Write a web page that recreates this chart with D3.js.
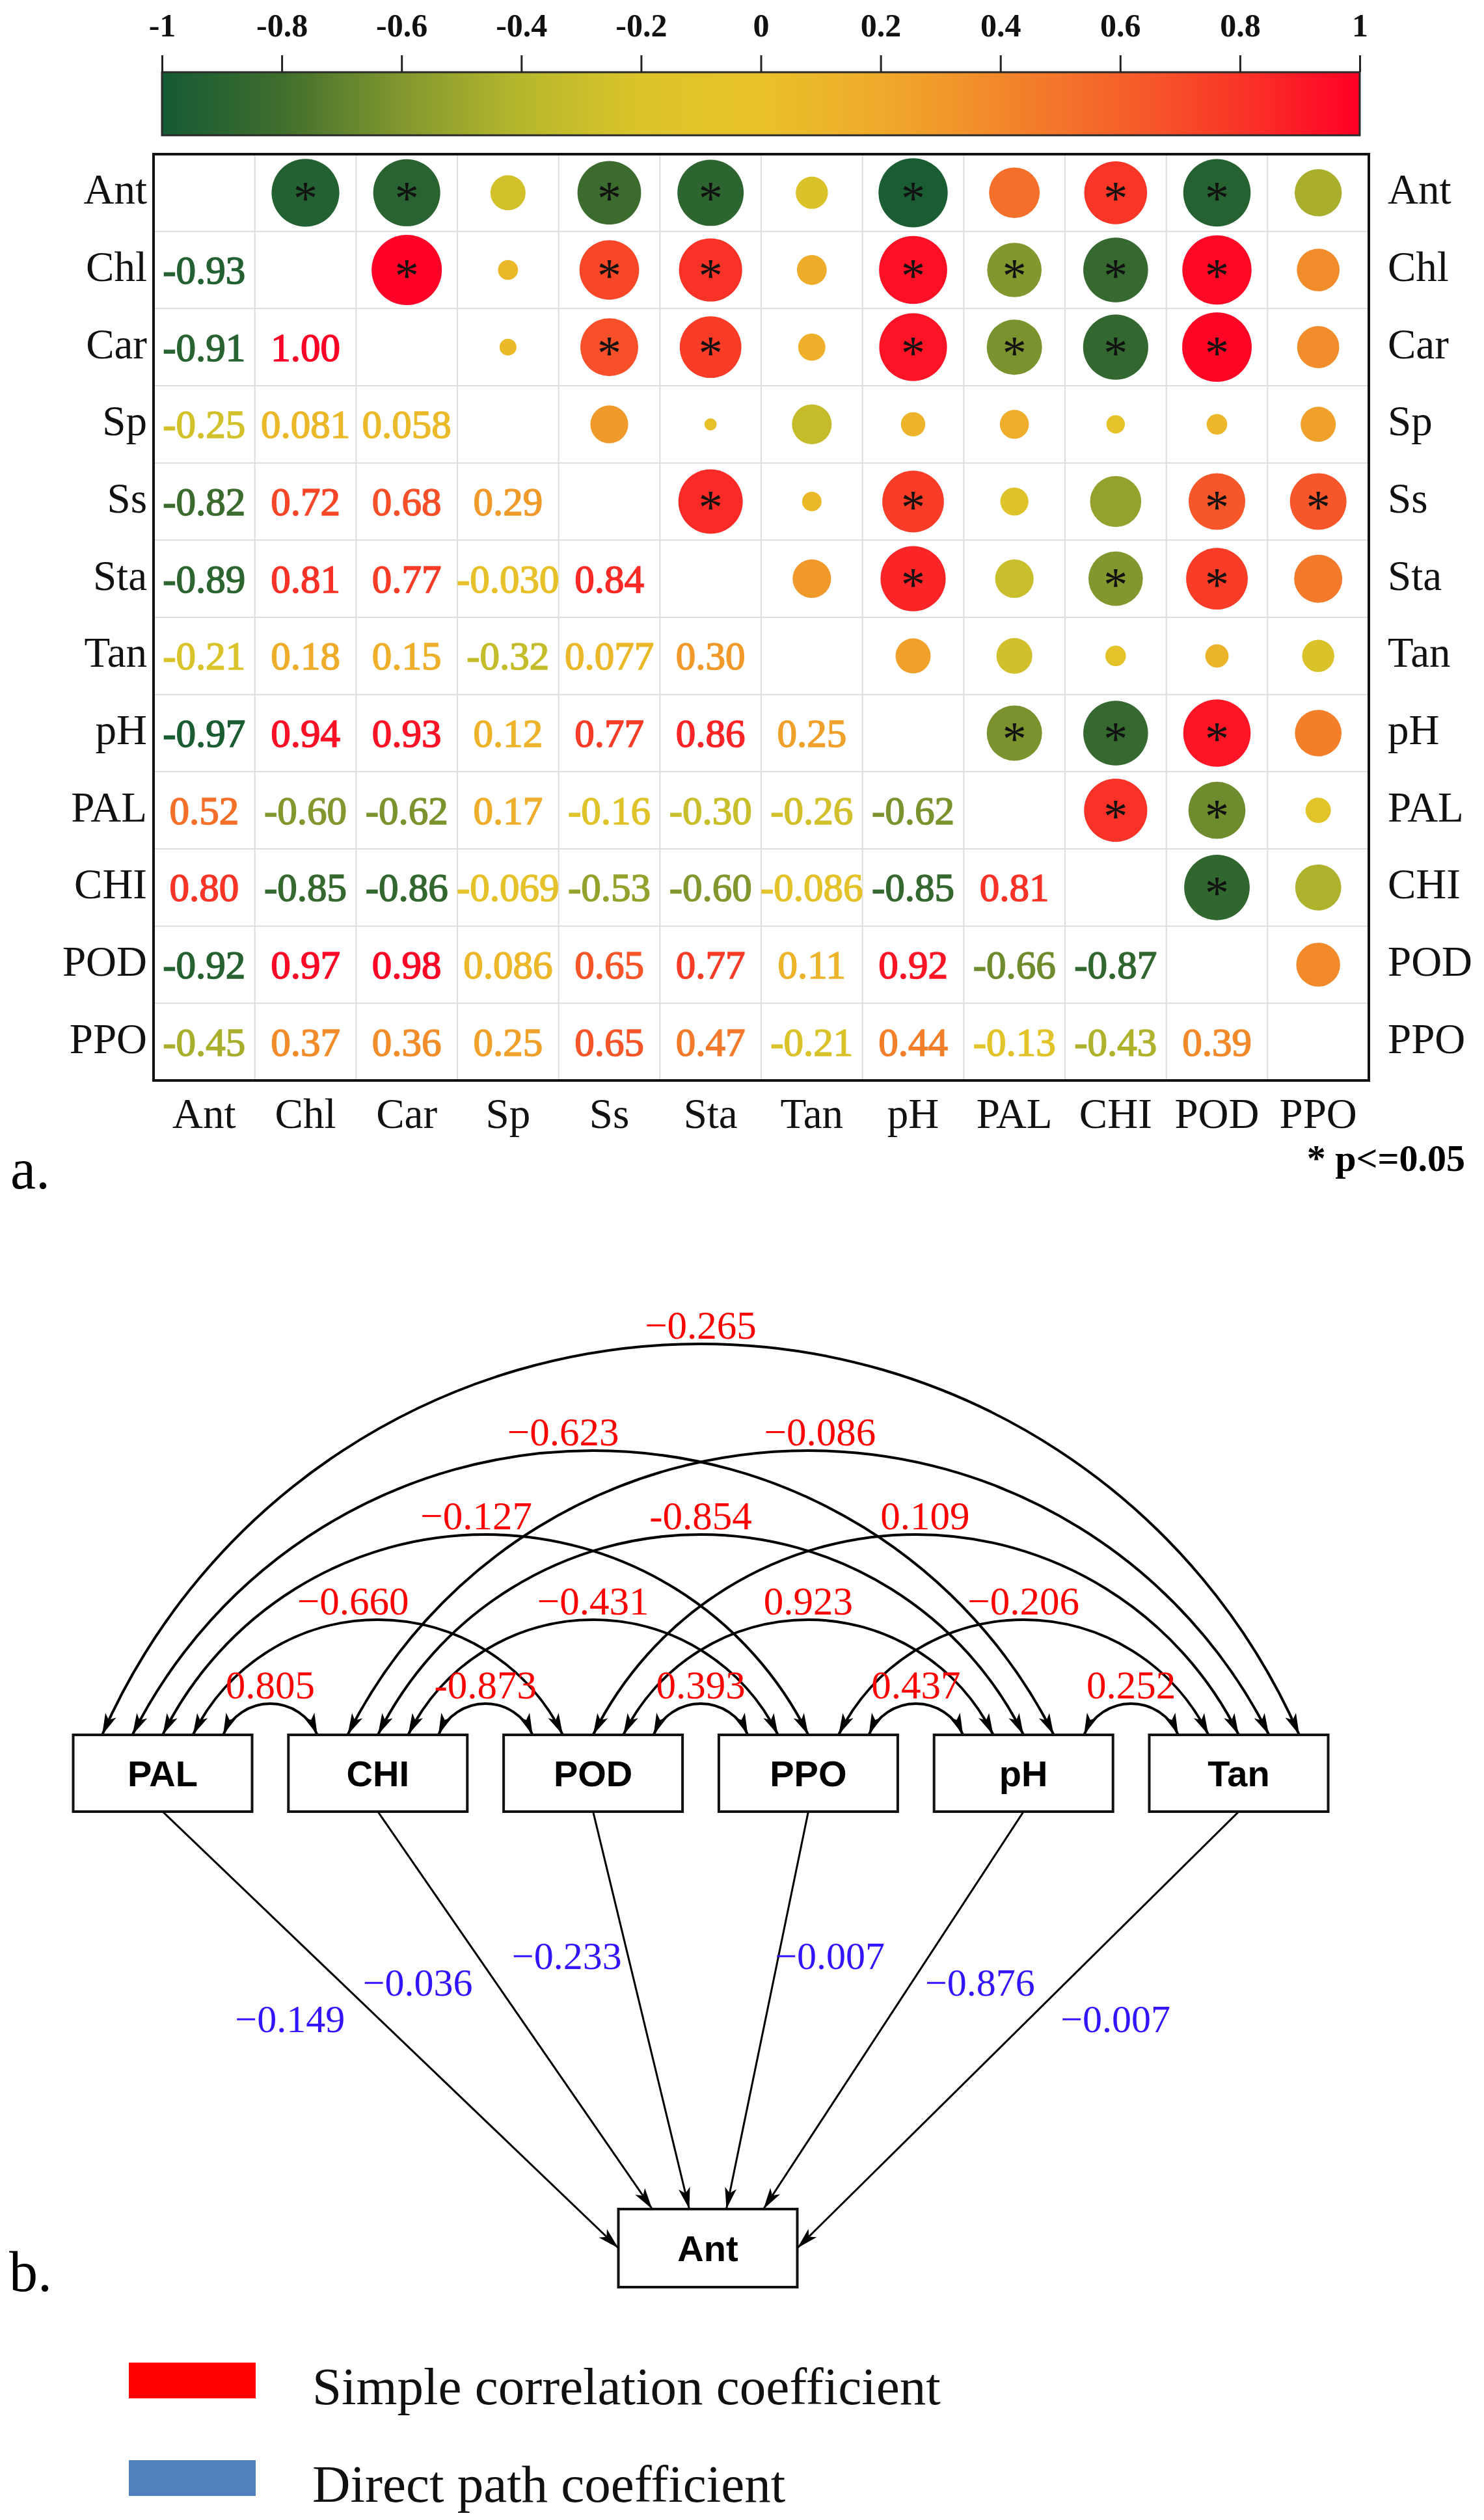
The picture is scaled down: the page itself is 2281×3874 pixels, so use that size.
<!DOCTYPE html>
<html>
<head>
<meta charset="utf-8">
<script src="https://cdn.jsdelivr.net/npm/d3@7"></script>
<style>
  body { margin: 0; background: #fff; }
  svg { display: block; }
</style>
</head>
<body>
<svg id="chart" width="2281" height="3874"></svg>
<script>
// ---- data: correlation matrix (a.) ----
const variables = ["Ant", "Chl", "Car", "Sp", "Ss", "Sta", "Tan", "pH", "PAL", "CHI", "POD", "PPO"];

// lower triangle, row by row (row i holds r with columns 0..i-1)
const corrRows = [
  [],
  [-0.93],
  [-0.91, 1.00],
  [-0.25, 0.081, 0.058],
  [-0.82, 0.72, 0.68, 0.29],
  [-0.89, 0.81, 0.77, -0.030, 0.84],
  [-0.21, 0.18, 0.15, -0.32, 0.077, 0.30],
  [-0.97, 0.94, 0.93, 0.12, 0.77, 0.86, 0.25],
  [0.52, -0.60, -0.62, 0.17, -0.16, -0.30, -0.26, -0.62],
  [0.80, -0.85, -0.86, -0.069, -0.53, -0.60, -0.086, -0.85, 0.81],
  [-0.92, 0.97, 0.98, 0.086, 0.65, 0.77, 0.11, 0.92, -0.66, -0.87],
  [-0.45, 0.37, 0.36, 0.25, 0.65, 0.47, -0.21, 0.44, -0.13, -0.43, 0.39]
];

// |r| from which the original marks a star (p<=0.05)
const sigLevel = 0.6;

const colorTicks = [-1, -0.8, -0.6, -0.4, -0.2, 0, 0.2, 0.4, 0.6, 0.8, 1];
const colorStops = ["#155a34", "#3f6e2d", "#82972e", "#b6b72c", "#dcc42a", "#e9c12a",
                    "#efaa2b", "#f2872b", "#f5612a", "#f93527", "#ff0026"];

// ---- data: path analysis (b.) ----
const pathVars = ["PAL", "CHI", "POD", "PPO", "pH", "Tan"];
const pathTarget = "Ant";

// simple correlation coefficients between the predictors
const simplePairs = [
  ["PAL", "Tan", -0.265], ["PAL", "pH", -0.623], ["CHI", "Tan", -0.086],
  ["PAL", "PPO", -0.127], ["CHI", "pH", -0.854], ["POD", "Tan", 0.109],
  ["PAL", "POD", -0.660], ["CHI", "PPO", -0.431], ["POD", "pH", 0.923],
  ["PPO", "Tan", -0.206], ["PAL", "CHI", 0.805], ["CHI", "POD", -0.873],
  ["POD", "PPO", 0.393], ["PPO", "pH", 0.437], ["pH", "Tan", 0.252]
];
// these two are printed with a plain hyphen in the original
const hyphenPairs = ["CHI-pH", "CHI-POD"];

// direct path coefficients to Ant, same order as pathVars
const directPath = [-0.149, -0.036, -0.233, -0.007, -0.876, -0.007];

const legendLabels = ["Simple correlation coefficient", "Direct path coefficient"];
const legendColors = ["#ff0000", "#4f81bd"];

// ---- drawing ----
const svg = d3.select("#chart");
const serif = "'Liberation Serif', 'Times New Roman', serif";
const sans = "'Liberation Sans', Arial, sans-serif";

const color = d3.scaleLinear().domain(colorTicks).range(colorStops).interpolate(d3.interpolateRgb);

// colour bar
const cbx = d3.scaleLinear().domain([-1, 1]).range([249, 2090]);
const grad = svg.append("defs").append("linearGradient")
  .attr("id", "cbar").attr("x1", "0%").attr("x2", "100%");
grad.selectAll("stop")
  .data(d3.range(0, 41).map(i => -1 + i * 0.05))
  .join("stop")
  .attr("offset", d => ((d + 1) / 2 * 100) + "%")
  .attr("stop-color", d => color(d));

svg.append("rect")
  .attr("x", cbx(-1)).attr("y", 111)
  .attr("width", cbx(1) - cbx(-1)).attr("height", 97)
  .attr("fill", "url(#cbar)")
  .attr("stroke", "#2a2a2a").attr("stroke-width", 3);

const cbAxis = svg.append("g")
  .attr("transform", "translate(0,111)")
  .call(d3.axisTop(cbx).tickValues(colorTicks).tickSize(26).tickPadding(29)
    .tickFormat(d => String(+d.toFixed(1))));
cbAxis.select(".domain").remove();
cbAxis.selectAll(".tick line").attr("stroke", "#222").attr("stroke-width", 3);
cbAxis.selectAll(".tick text")
  .attr("fill", "#111")
  .style("font-family", serif).style("font-size", "50px").style("font-weight", "bold");

// matrix
const mx = d3.scaleBand().domain(variables).range([236, 2104]);
const my = d3.scaleBand().domain(variables).range([237, 1661]);
const bw = mx.bandwidth(), bh = my.bandwidth();
const radius = d3.scaleSqrt().domain([0, 1]).range([0, 54]);

const cells = [];
corrRows.forEach((row, i) => row.forEach((r, j) => cells.push({row: variables[i], col: variables[j], r})));

const fmt = r => Math.abs(r) < 0.1 ? r.toPrecision(2) : r.toFixed(2);

const grid = svg.append("g").attr("stroke", "#dddddd").attr("stroke-width", 2);
variables.slice(1).forEach(v => {
  grid.append("line").attr("x1", mx(v)).attr("x2", mx(v)).attr("y1", my.range()[0]).attr("y2", my.range()[1]);
  grid.append("line").attr("y1", my(v)).attr("y2", my(v)).attr("x1", mx.range()[0]).attr("x2", mx.range()[1]);
});

// upper triangle: circles (area ~ |r|)
svg.append("g").selectAll("circle")
  .data(cells)
  .join("circle")
  .attr("cx", d => mx(d.row) + bw / 2)
  .attr("cy", d => my(d.col) + bh / 2)
  .attr("r", d => radius(Math.abs(d.r)))
  .attr("fill", d => color(d.r));

svg.append("g").selectAll("text")
  .data(cells.filter(d => Math.abs(d.r) >= sigLevel))
  .join("text")
  .attr("x", d => mx(d.row) + bw / 2)
  .attr("y", d => my(d.col) + bh / 2 + 34)
  .attr("text-anchor", "middle")
  .style("font-family", serif).style("font-size", "74px")
  .attr("fill", "#111")
  .text("*");

// lower triangle: values
svg.append("g").selectAll("text")
  .data(cells)
  .join("text")
  .attr("x", d => mx(d.col) + bw / 2)
  .attr("y", d => my(d.row) + bh / 2 + 21)
  .attr("text-anchor", "middle")
  .style("font-family", serif).style("font-size", "61px")
  .attr("fill", d => color(d.r))
  .attr("stroke", d => color(d.r)).attr("stroke-width", 1.6)
  .text(d => fmt(d.r));

svg.append("rect")
  .attr("x", mx.range()[0]).attr("y", my.range()[0])
  .attr("width", mx.range()[1] - mx.range()[0]).attr("height", my.range()[1] - my.range()[0])
  .attr("fill", "none").attr("stroke", "#111").attr("stroke-width", 4);

const labelStyle = s => s.style("font-family", serif).style("font-size", "65px").attr("fill", "#111");
svg.append("g").selectAll("text").data(variables).join("text")
  .attr("x", 226).attr("y", d => my(d) + bh / 2 + 17).attr("text-anchor", "end")
  .call(labelStyle).text(d => d);
svg.append("g").selectAll("text").data(variables).join("text")
  .attr("x", 2133).attr("y", d => my(d) + bh / 2 + 17)
  .call(labelStyle).text(d => d);
svg.append("g").selectAll("text").data(variables).join("text")
  .attr("x", d => mx(d) + bw / 2).attr("y", 1734).attr("text-anchor", "middle")
  .call(labelStyle).text(d => d);

svg.append("text").attr("x", 2252).attr("y", 1800).attr("text-anchor", "end")
  .style("font-family", serif).style("font-size", "58px").style("font-weight", "bold")
  .text("* p<=0.05");

svg.append("text").attr("x", 16).attr("y", 1827)
  .style("font-family", serif).style("font-size", "88px").text("a.");

// ---- path diagram ----
const bx = d3.scalePoint().domain(pathVars).range([250, 1904]);
const boxW = 275, boxH = 118, boxTop = 2667;
const slotGap = 46.5;
const arcRise = d3.scaleLinear().domain([1, 2, 3, 4, 5]).range([48, 177, 308, 437, 601]);
const labelShift = {"PAL-pH": -46, "PAL-POD": -38, "CHI-Tan": 18, "PAL-PPO": -14, "POD-Tan": 14};

const defs = svg.select("defs");
defs.append("marker")
  .attr("id", "arrow")
  .attr("markerUnits", "userSpaceOnUse")
  .attr("viewBox", "-34 -10 36 20")
  .attr("refX", 0).attr("refY", 0)
  .attr("markerWidth", 36).attr("markerHeight", 20)
  .attr("orient", "auto-start-reverse")
  .append("path")
  .attr("d", "M0,0 L-33,-9 L-25,0 L-33,9 Z")
  .attr("fill", "#000");

function slotX(k, t) {
  const order = d3.range(k - 1, -1, -1).concat(d3.range(pathVars.length - 1, k, -1));
  return bx(pathVars[k]) + (order.indexOf(t) - 2) * slotGap;
}

const arcs = simplePairs.map(([a, b, v]) => {
  const ia = pathVars.indexOf(a), ib = pathVars.indexOf(b);
  const x1 = slotX(ia, ib), x2 = slotX(ib, ia);
  const h = (x2 - x1) / 2, s = arcRise(ib - ia);
  const R = (h * h + s * s) / (2 * s);
  const key = a + "-" + b;
  return {
    key, v, x1, x2, s, R,
    label: (v < 0 ? (hyphenPairs.includes(key) ? "-" : "\u2212") : "") + Math.abs(v).toFixed(3)
  };
});

svg.append("g").selectAll("path")
  .data(arcs)
  .join("path")
  .attr("d", d => `M${d.x1},${boxTop} A${d.R},${d.R} 0 0 1 ${d.x2},${boxTop}`)
  .attr("fill", "none").attr("stroke", "#000").attr("stroke-width", 4)
  .attr("marker-start", "url(#arrow)").attr("marker-end", "url(#arrow)");

svg.append("g").selectAll("text")
  .data(arcs)
  .join("text")
  .attr("x", d => (d.x1 + d.x2) / 2 + (labelShift[d.key] || 0))
  .attr("y", d => boxTop - d.s - 8)
  .attr("text-anchor", "middle")
  .style("font-family", serif).style("font-size", "61px")
  .attr("fill", "#ff0000")
  .text(d => d.label);

// boxes
const antBox = {cx: 1088, cy: 3456, w: 275, h: 120};
const boxes = pathVars.map(v => ({name: v, cx: bx(v), cy: boxTop + boxH / 2, w: boxW, h: boxH}))
  .concat([{name: pathTarget, cx: antBox.cx, cy: antBox.cy, w: antBox.w, h: antBox.h}]);

const boxG = svg.append("g").selectAll("g").data(boxes).join("g");
boxG.append("rect")
  .attr("x", d => d.cx - d.w / 2).attr("y", d => d.cy - d.h / 2)
  .attr("width", d => d.w).attr("height", d => d.h)
  .attr("fill", "#fff").attr("stroke", "#111").attr("stroke-width", 4);
boxG.append("text")
  .attr("x", d => d.cx).attr("y", d => d.cy + 20)
  .attr("text-anchor", "middle")
  .style("font-family", sans).style("font-size", "56px").style("font-weight", "bold")
  .text(d => d.name);

// direct paths
const labelT = [0.475, 0.43, 0.363, 0.363, 0.43, 0.475];
const labelDx = [-137, -120, -94, 79, 105, 133];
const direct = pathVars.map((v, i) => {
  const x1 = bx(v), y1 = boxTop + boxH;
  let x2, y2;
  if (i === 0) { x2 = antBox.cx - antBox.w / 2; y2 = antBox.cy; }
  else if (i === pathVars.length - 1) { x2 = antBox.cx + antBox.w / 2; y2 = antBox.cy; }
  else { x2 = antBox.cx + (i - 2.5) * 57; y2 = antBox.cy - antBox.h / 2; }
  const t = labelT[i];
  return {v: directPath[i], x1, y1, x2, y2,
    lx: x1 + (x2 - x1) * t + labelDx[i], ly: y1 + (y2 - y1) * t};
});

svg.append("g").selectAll("line")
  .data(direct)
  .join("line")
  .attr("x1", d => d.x1).attr("y1", d => d.y1)
  .attr("x2", d => d.x2).attr("y2", d => d.y2)
  .attr("stroke", "#000").attr("stroke-width", 3)
  .attr("marker-end", "url(#arrow)");

svg.append("g").selectAll("text")
  .data(direct)
  .join("text")
  .attr("x", d => d.lx).attr("y", d => d.ly + 20)
  .attr("text-anchor", "middle")
  .style("font-family", serif).style("font-size", "60px")
  .attr("fill", "#3214ff")
  .text(d => (d.v < 0 ? "\u2212" : "") + Math.abs(d.v).toFixed(3));

svg.append("text").attr("x", 14).attr("y", 3522)
  .style("font-family", serif).style("font-size", "88px").text("b.");

// legend
const legend = svg.append("g").selectAll("g")
  .data(legendLabels)
  .join("g")
  .attr("transform", (d, i) => `translate(198,${3632 + i * 150})`);
legend.append("rect")
  .attr("width", 195).attr("height", 55)
  .attr("fill", (d, i) => legendColors[i]);
legend.append("text")
  .attr("x", 282).attr("y", 64)
  .style("font-family", serif).style("font-size", "81px")
  .attr("fill", "#111")
  .text(d => d);
</script>
</body>
</html>
